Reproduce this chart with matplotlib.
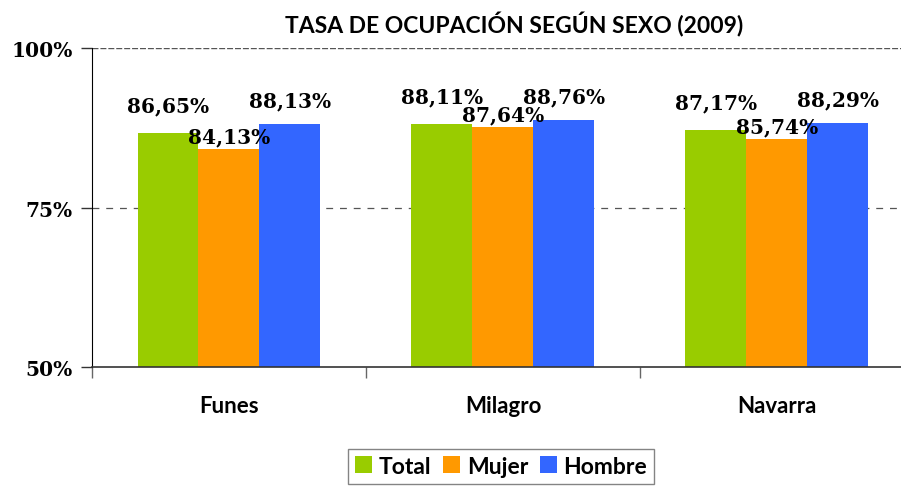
import matplotlib
matplotlib.use('Agg')
import matplotlib.pyplot as plt
import numpy as np

categories = ["Funes", "Milagro", "Navarra"]
series_names = ["Total", "Mujer", "Hombre"]
total = [86.65, 88.11, 87.17]
mujer = [84.13, 87.64, 85.74]
hombre = [88.13, 88.76, 88.29]
y_ticks = [50, 75, 100]
y_tick_labels = ["50%", "75%", "100%"]

colors = ["#99CC00", "#FF9900", "#3366FF"]
# vertical offset of value labels above the bar top (points), per series
label_offsets = [20, 9, 17]
serif = "DejaVu Serif"
sans = "Lato"

fig = plt.figure(figsize=(9.01, 4.89), dpi=100)
ax = fig.add_axes([0.1021, 0.2474, 0.9123, 0.6524])

x = np.arange(len(categories))
w = 0.2226
for i, (name, vals) in enumerate(zip(series_names, [total, mujer, hombre])):
    pos = x + (i - 1) * w
    ax.bar(pos, vals, width=w, color=colors[i], label=name, zorder=2)
    for px, v in zip(pos, vals):
        ax.annotate(f"{v:.2f}%".replace(".", ","), (px, v),
                    xytext=(0, label_offsets[i]), textcoords="offset points",
                    ha="center", va="center", fontsize=14.5, fontweight="bold",
                    family=serif, zorder=3)

ax.set_xlim(-0.5, 2.5)
ax.set_ylim(50, 100)

ax.axhline(100, color="#555555", lw=1, ls=(0, (4.3, 1.4)), zorder=1)
ax.axhline(75, color="#555555", lw=0.9, ls=(0, (5.5, 5.5)), zorder=1)

ax.set_yticks(y_ticks)
ax.set_yticklabels(y_tick_labels, fontsize=14.5, fontweight="bold", family=serif)
ax.tick_params(axis="y", length=8, width=1, color="#333333", pad=6)

ax.set_xticks(x)
ax.set_xticklabels(categories, fontsize=16, fontweight="bold", family=sans)
ax.tick_params(axis="x", which="major", length=0, pad=20)
ax.set_xticks(np.arange(-0.5, 3.0, 1.0), minor=True)
ax.tick_params(axis="x", which="minor", length=8, width=1, color="#666666")

for s in ["top", "right"]:
    ax.spines[s].set_visible(False)
ax.spines["left"].set_color("black")
ax.spines["bottom"].set_color("#333333")
ax.spines["bottom"].set_linewidth(1.2)

fig.text(514 / 901, 1 - 24.5 / 489, "TASA DE OCUPACIÓN SEGÚN SEXO (2009)", ha="center",
         va="center", fontsize=16.5, fontweight="bold", family=sans)

leg = fig.legend(loc="upper center", bbox_to_anchor=(501 / 901, 1 - 450 / 489),
                 ncol=3, frameon=True, fancybox=False, edgecolor="#666666",
                 prop={"family": sans, "weight": "bold", "size": 16.5},
                 handlelength=0.75, handleheight=0.75, handletextpad=0.3,
                 columnspacing=0.5, borderpad=0.3, borderaxespad=0)
leg.get_frame().set_linewidth(1)

fig.savefig("out.png", dpi=100)
